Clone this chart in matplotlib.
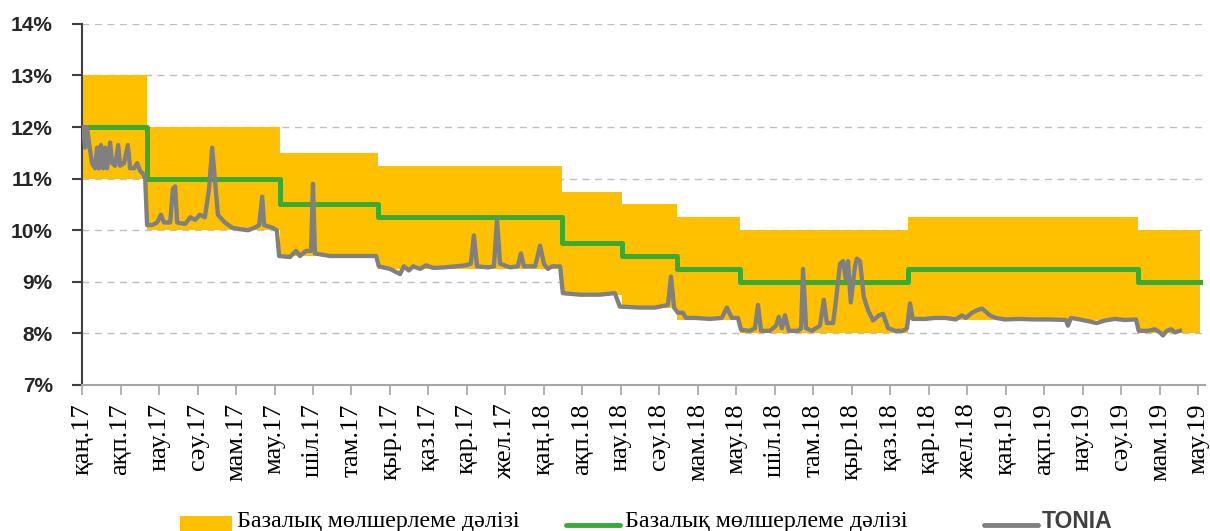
import matplotlib
matplotlib.use('Agg')
import matplotlib.pyplot as plt
from matplotlib.lines import Line2D
from matplotlib.patches import Rectangle

# time axis: months elapsed since 1 Jan 2017
month_names = ['қаң', 'ақп', 'нау', 'сәу', 'мам', 'мау',
               'шіл', 'там', 'қыр', 'қаз', 'қар', 'жел']
tick_labels = [f'{m}.{y}' for y in ('17', '18', '19') for m in month_names][:30]

# base rate decisions and the corridor around it
rate_t = [0, 1.69, 5.14, 7.69, 12.47, 14.03, 15.45, 17.09, 21.45, 27.43, 29.04]
base_rate = [12.0, 11.0, 10.5, 10.25, 9.75, 9.5, 9.25, 9.0, 9.25, 9.0, 9.0]
corr_upper = [13.0, 12.0, 11.5, 11.25, 10.75, 10.5, 10.25, 10.0, 10.25, 10.0, 10.0]
corr_lower = [11.0, 10.0, 9.5, 9.25, 8.75, 8.5, 8.25, 8.0, 8.25, 8.0, 8.0]

# TONIA
tonia_t = [0.03, 0.08, 0.13, 0.18, 0.26, 0.34, 0.39, 0.44, 0.49, 0.55, 0.60, 0.65,
           0.73, 0.78, 0.86, 0.94, 0.99, 1.09, 1.19, 1.25, 1.35, 1.43, 1.51, 1.58,
           1.64, 1.69, 1.82, 1.95, 2.05, 2.13, 2.29, 2.36, 2.42, 2.47, 2.68, 2.81,
           2.94, 3.06, 3.19, 3.30, 3.38, 3.45, 3.53, 3.71, 3.90, 4.10, 4.31, 4.49,
           4.60, 4.68, 4.73, 4.94, 5.06, 5.12, 5.40, 5.56, 5.66, 5.82, 5.95, 6.00,
           6.05, 6.44, 6.96, 7.64, 7.71, 8.00, 8.13, 8.26, 8.36, 8.49, 8.60, 8.78,
           8.94, 9.12, 9.43, 9.71, 9.97, 10.10, 10.18, 10.26, 10.55, 10.70, 10.78,
           10.86, 11.12, 11.32, 11.40, 11.48, 11.77, 11.90, 12.00, 12.10, 12.21,
           12.42, 12.49, 12.94, 13.45, 13.84, 13.97, 14.49, 14.88, 15.22, 15.30,
           15.38, 15.48, 15.61, 15.69, 15.92, 16.31, 16.62, 16.75, 16.88, 17.04,
           17.12, 17.35, 17.48, 17.56, 17.64, 17.87, 18.03, 18.10, 18.18, 18.26,
           18.36, 18.60, 18.68, 18.73, 18.81, 18.96, 19.17, 19.27, 19.35, 19.51,
           19.58, 19.69, 19.77, 19.84, 19.90, 19.97, 20.08, 20.13, 20.21, 20.31,
           20.42, 20.55, 20.70, 20.81, 20.94, 21.12, 21.32, 21.43, 21.51, 21.58,
           21.90, 22.16, 22.42, 22.70, 22.86, 22.96, 23.12, 23.25, 23.38, 23.48,
           23.58, 23.74, 23.97, 24.36, 24.75, 25.14, 25.56, 25.61, 25.69, 25.92,
           26.18, 26.36, 26.57, 26.83, 27.09, 27.38, 27.45, 27.69, 27.87, 28.00,
           28.08, 28.18, 28.29, 28.39, 28.52]
tonia = [12.0, 11.6, 12.0, 11.7, 11.3, 11.2, 11.6, 11.2, 11.65, 11.2, 11.6, 11.2,
         11.7, 11.3, 11.25, 11.65, 11.25, 11.3, 11.65, 11.2, 11.2, 11.3, 11.15, 11.1,
         11.0, 10.1, 10.1, 10.15, 10.3, 10.15, 10.15, 10.8, 10.85, 10.15, 10.12, 10.25,
         10.2, 10.3, 10.25, 10.8, 11.6, 11.0, 10.3, 10.15, 10.05, 10.02, 10.0, 10.05,
         10.1, 10.65, 10.1, 10.05, 10.0, 9.5, 9.48, 9.6, 9.5, 9.6, 9.6, 10.9,
         9.55, 9.5, 9.5, 9.5, 9.3, 9.25, 9.2, 9.15, 9.3, 9.22, 9.3, 9.25,
         9.32, 9.27, 9.28, 9.3, 9.32, 9.35, 9.9, 9.3, 9.28, 9.3, 10.2,
         9.35, 9.28, 9.3, 9.55, 9.3, 9.3, 9.7, 9.35, 9.25, 9.3,
         9.3, 8.78, 8.75, 8.75, 8.78, 8.52, 8.5, 8.5, 8.55, 9.1,
         8.5, 8.4, 8.4, 8.3, 8.3, 8.28, 8.3, 8.5, 8.3, 8.3,
         8.07, 8.05, 8.1, 8.55, 8.05, 8.05, 8.15, 8.32, 8.1, 8.35,
         8.05, 8.05, 8.1, 9.25, 8.1, 8.05, 8.15, 8.65, 8.2, 8.2,
         8.6, 9.35, 9.4, 9.05, 9.4, 8.6, 9.3, 9.45, 9.4, 8.7,
         8.45, 8.25, 8.35, 8.38, 8.1, 8.05, 8.05, 8.1, 8.58, 8.28,
         8.28, 8.3, 8.3, 8.27, 8.35, 8.3, 8.4, 8.45, 8.48, 8.42,
         8.35, 8.3, 8.27, 8.28, 8.27, 8.27, 8.26, 8.15, 8.3, 8.27,
         8.23, 8.2, 8.25, 8.28, 8.26, 8.27, 8.05, 8.05, 8.08, 8.02,
         7.96, 8.05, 8.08, 8.02, 8.05]

yellow = '#FFC000'
green = '#3AAA35'
grey = '#808080'

fig = plt.figure(figsize=(12.10, 5.31), dpi=100)
ax = fig.add_axes([0.0678, 0.275, 0.928, 0.680])

ax.fill_between(rate_t, corr_lower, corr_upper, step='post', color=yellow, lw=0, zorder=1)
ax.step(rate_t, base_rate, where='post', color=green, lw=3.6, zorder=3)
ax.plot(tonia_t, tonia, color=grey, lw=3.1, solid_joinstyle='round', zorder=4)

ax.set_xlim(0, 29.17)
ax.set_ylim(7, 14)
ax.set_yticks(range(7, 15))
ax.set_yticklabels([f'{v}%' for v in range(7, 15)])
ax.set_xticks(range(30))
ax.set_xticklabels(tick_labels, rotation=90, family=['Liberation Serif', 'DejaVu Serif'],
                   fontsize=19, color='black')
for lbl in ax.get_yticklabels():
    lbl.set_family(['Liberation Sans', 'DejaVu Sans'])
    lbl.set_fontweight('bold')
    lbl.set_fontsize(15)
    lbl.set_color('#262626')

ax.tick_params(axis='y', length=7, width=1.5, color='#404040', pad=14)
ax.tick_params(axis='x', length=7, width=1.2, color='#A6A6A6', pad=6)

for s in ('top', 'right'):
    ax.spines[s].set_visible(False)
ax.spines['left'].set_color('#404040')
ax.spines['left'].set_linewidth(1.5)
ax.spines['bottom'].set_color('#A6A6A6')
ax.spines['bottom'].set_linewidth(1.5)

ax.yaxis.grid(True, color='#BFBFBF', linestyle=(0, (5, 4)), lw=1)
ax.set_axisbelow(True)
ax.set_facecolor('white')

# legend row (cut by the bottom edge like the original)
fig.add_artist(Rectangle((180 / 1210, -0.01), 52 / 1210, 0.038,
                         transform=fig.transFigure, color=yellow, lw=0))
fig.text(237 / 1210, 0.008, 'Базалық мөлшерлеме дәлізі', va='baseline', ha='left',
         family=['Liberation Serif', 'DejaVu Serif'], fontsize=17.3)
fig.add_artist(Line2D([566 / 1210, 620 / 1210], [0.011, 0.011], transform=fig.transFigure,
                      color=green, lw=3.5, solid_capstyle='round'))
fig.text(625 / 1210, 0.008, 'Базалық мөлшерлеме дәлізі', va='baseline', ha='left',
         family=['Liberation Serif', 'DejaVu Serif'], fontsize=17.3)
fig.add_artist(Line2D([984 / 1210, 1038 / 1210], [0.011, 0.011], transform=fig.transFigure,
                      color=grey, lw=3.5, solid_capstyle='round'))
fig.text(1042 / 1210, 0.006, 'TONIA', va='baseline', ha='left',
         family=['Liberation Sans', 'DejaVu Sans'], fontweight='bold', fontsize=16.5,
         color='#404040')

fig.savefig('out.png', dpi=100)
